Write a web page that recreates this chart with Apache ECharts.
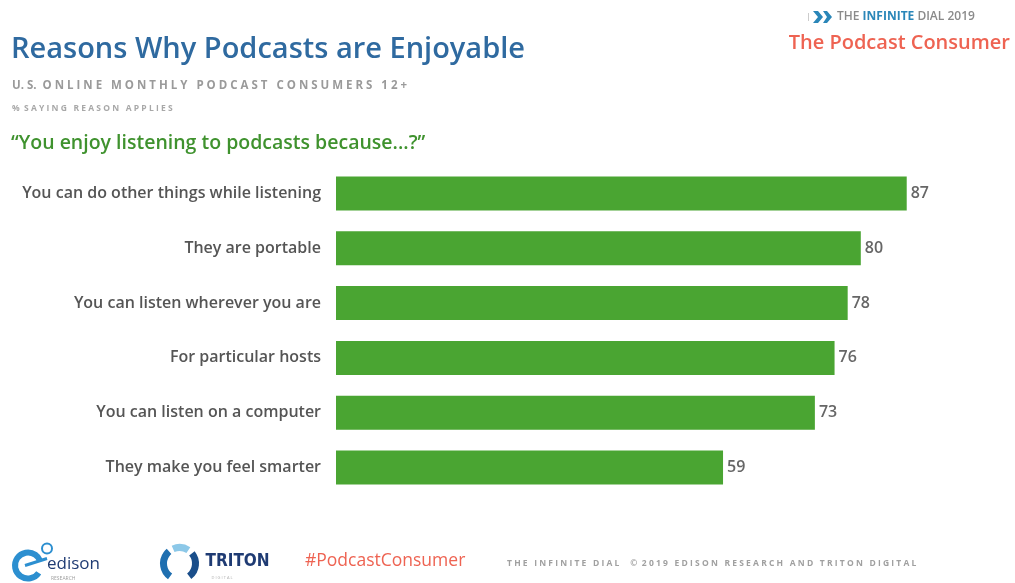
<!DOCTYPE html>
<html>
<head>
<meta charset="utf-8">
<script src="https://cdn.jsdelivr.net/npm/echarts@6/dist/echarts.min.js"></script>
<style>
  html, body { margin: 0; padding: 0; background: #fff; }
  #chart { width: 1015px; height: 583px; }
</style>
</head>
<body>
<div id="chart"></div>
<script>
// Reasons listed top to bottom, with the share of listeners agreeing (%)
const reasons = [
  'You can do other things while listening',
  'They are portable',
  'You can listen wherever you are',
  'For particular hosts',
  'You can listen on a computer',
  'They make you feel smarter'
];
const shares = [87, 80, 78, 76, 73, 59];

const FONT = '"Open Sans", "Noto Sans", sans-serif';
const GREEN = '#4aa532';
const CORAL = '#ee6352';

const chart = echarts.init(document.getElementById('chart'), null, { renderer: 'canvas' });

chart.setOption({
  backgroundColor: '#ffffff',
  animation: false,
  grid: { left: 336, right: 23, top: 166, bottom: 88, containLabel: false },
  xAxis: {
    type: 'value', min: 0, max: 100,
    show: false
  },
  yAxis: {
    type: 'category',
    data: reasons,
    inverse: true,
    axisLine: { show: false },
    axisTick: { show: false },
    splitLine: { show: false },
    axisLabel: {
      margin: 15,
      color: '#555555',
      fontFamily: FONT,
      fontSize: 16,
      fontWeight: 600
    }
  },
  series: [{
    type: 'bar',
    data: shares,
    barCategoryGap: '38%',
    itemStyle: { color: GREEN },
    label: {
      show: true,
      position: 'right',
      distance: 4,
      color: '#666666',
      fontFamily: FONT,
      fontSize: 16,
      fontWeight: 600
    }
  }],
  graphic: [
    // headings
    { type: 'text', left: 11, top: 35, style: {
      text: 'Reasons Why Podcasts are Enjoyable', fill: '#2f6aa0',
      font: '600 29px ' + FONT } },
    { type: 'text', left: 12, top: 80, style: {
      text: 'U. S.  O N L I N E   M O N T H L Y   P O D C A S T   C O N S U M E R S   1 2 +', fill: '#9a9a9a',
      font: '700 11.5px ' + FONT } },
    { type: 'text', left: 12, top: 104, style: {
      text: '%  S A Y I N G   R E A S O N   A P P L I E S', fill: '#a8a8a8',
      font: '700 8.5px ' + FONT } },
    { type: 'text', left: 11, top: 133, style: {
      text: '\u201CYou enjoy listening to podcasts because...?\u201D', fill: '#3f922e',
      font: '600 19.5px ' + FONT } },

    // top-right branding
    { type: 'group', left: 808, top: 11, children: [
      { type: 'rect', shape: { x: 0, y: 4, width: 1, height: 8 }, style: { fill: '#cccccc' } },
      { type: 'polygon', shape: { points: [[5, 2], [10, 2], [15, 8], [10, 14], [5, 14], [10, 8]] }, style: { fill: '#2a86b8' } },
      { type: 'polygon', shape: { points: [[15, 2], [19, 2], [24, 8], [19, 14], [15, 14], [19, 8]] }, style: { fill: '#2a86b8' } }
    ] },
    { type: 'text', left: 837, top: 11, style: {
      rich: {
        a: { fill: '#8a8a8a', font: '600 12px ' + FONT },
        b: { fill: '#2a86b8', font: '700 12px ' + FONT }
      },
      text: '{a|THE }{b|INFINITE}{a| DIAL 2019}' } },
    { type: 'text', right: 5, top: 33, style: {
      text: 'The Podcast Consumer', fill: CORAL,
      font: '600 20px ' + FONT } },

    // footer: edison mark
    { type: 'group', left: 12, top: 541, children: [
      { type: 'arc', shape: { cx: 17, cy: 23, r: 13, startAngle: 0.6, endAngle: 5.9 },
        style: { stroke: '#2c8fd0', lineWidth: 6, fill: null } },
      { type: 'line', shape: { x1: 14, y1: 23, x2: 36, y2: 16 }, style: { stroke: '#2c8fd0', lineWidth: 3 } },
      { type: 'circle', shape: { cx: 36, cy: 6, r: 5 }, style: { stroke: '#2c8fd0', lineWidth: 2, fill: null } },
      { type: 'text', x: 36, y: 13, style: { text: 'edison', fill: '#1f3b73', font: '500 17px ' + FONT } },
      { type: 'text', x: 40, y: 34, style: { text: 'RESEARCH', fill: '#a0a0a0', font: '500 5px ' + FONT } }
    ] },
    // footer: triton mark
    { type: 'group', left: 160, top: 544, children: [
      { type: 'arc', shape: { cx: 20, cy: 19, r: 16, startAngle: 2.2, endAngle: 4.0 },
        style: { stroke: '#1f6fb0', lineWidth: 7, fill: null } },
      { type: 'arc', shape: { cx: 20, cy: 19, r: 16, startAngle: 4.3, endAngle: 5.3 },
        style: { stroke: '#8cc8e8', lineWidth: 7, fill: null } },
      { type: 'arc', shape: { cx: 20, cy: 19, r: 16, startAngle: 5.6, endAngle: 7.2 },
        style: { stroke: '#1a4e8a', lineWidth: 7, fill: null } },
      { type: 'text', x: 46, y: 9, style: { text: 'TRITON', fill: '#1f3b73', font: '700 17px "DejaVu Sans Condensed", ' + FONT } },
      { type: 'text', x: 52, y: 31, style: { text: 'D I G I T A L', fill: '#b0b0b0', font: '500 4px ' + FONT } }
    ] },
    { type: 'text', left: 305, top: 552, style: {
      text: '#PodcastConsumer', fill: CORAL, font: '500 17.5px ' + FONT } },
    { type: 'text', left: 507, top: 559, style: {
      text: 'T H E   I N F I N I T E   D I A L     \u00A9  2 0 1 9   E D I S O N   R E S E A R C H   A N D   T R I T O N   D I G I T A L',
      fill: '#a0a0a0', font: '700 8.5px ' + FONT } }
  ]
});
</script>
</body>
</html>
